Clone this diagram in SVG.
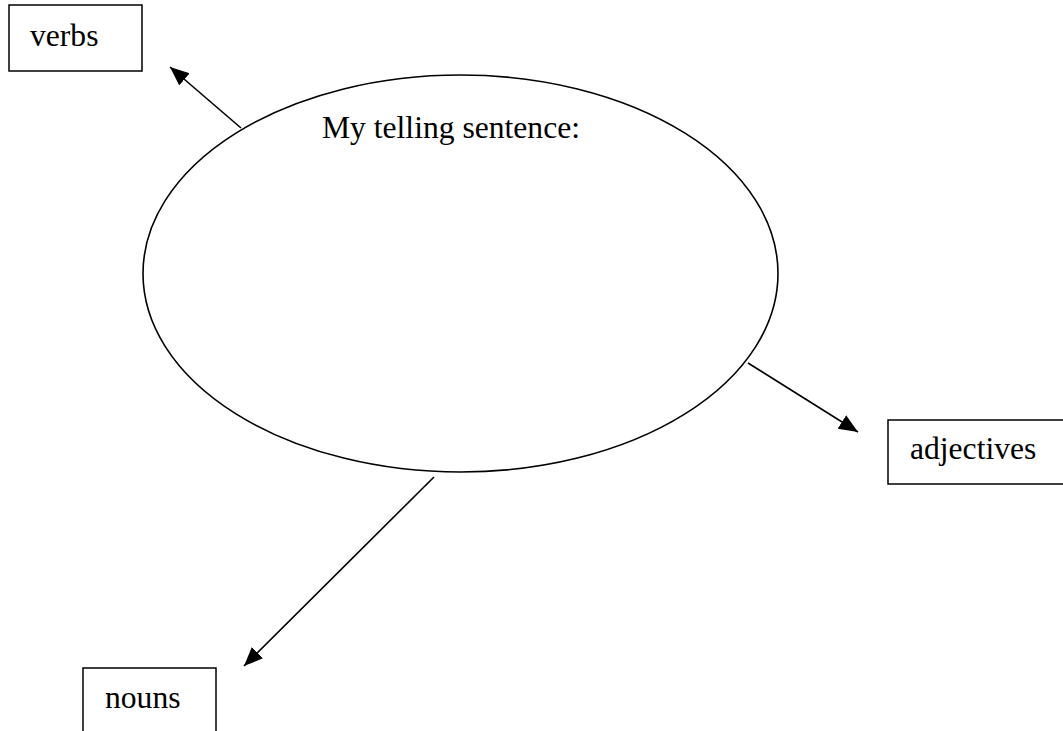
<svg xmlns="http://www.w3.org/2000/svg" width="1063" height="731" viewBox="0 0 1063 731">
<style>
.box{fill:#fff;stroke:#000;stroke-width:1.5}
.lbl{font-family:"Liberation Serif","Times New Roman",serif;font-size:31.6px;fill:#000}
.conn{stroke:#000;stroke-width:1.6;fill:none;marker-end:url(#ah)}
</style>
<defs>
<marker id="ah" markerUnits="userSpaceOnUse" markerWidth="22" markerHeight="18" refX="19" refY="8" orient="auto">
<path d="M0,0 L19,8 L0,16 Z" fill="#000"/>
</marker>
</defs>
<rect width="1063" height="731" fill="#fff"/>
<g id="connectors">
<line class="conn" x1="241" y1="128" x2="170" y2="67"/>
<line class="conn" x1="748" y1="363" x2="858" y2="432"/>
<line class="conn" x1="434" y1="477" x2="244" y2="666"/>
</g>
<g id="center">
<ellipse cx="460.5" cy="273.5" rx="317.5" ry="198.5" fill="none" stroke="#000" stroke-width="1.6"/>
<text class="lbl" x="322" y="138">My telling sentence:</text>
</g>
<g id="verbs">
<rect class="box" x="9" y="5" width="133" height="66"/>
<text class="lbl" x="30" y="46">verbs</text>
</g>
<g id="adjectives">
<rect class="box" x="888" y="420" width="180" height="64"/>
<text class="lbl" x="910" y="459">adjectives</text>
</g>
<g id="nouns">
<rect class="box" x="83" y="668" width="133" height="80"/>
<text class="lbl" x="105" y="708">nouns</text>
</g>
</svg>
